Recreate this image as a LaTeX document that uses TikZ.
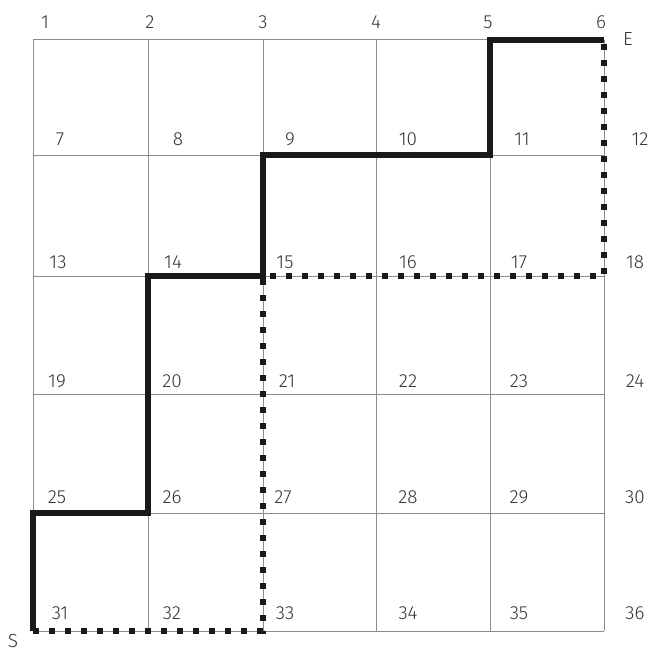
\documentclass[tikz,border=0pt]{standalone}
\usepackage{fontspec}
\setmainfont{Fira Sans Light}
\begin{document}
\begin{tikzpicture}[x=1bp,y=-1bp,
  grid/.style={draw=black!45,line width=1bp},
  solidpath/.style={draw=black!90,line width=5.5bp,line join=miter},
  dotpath/.style={draw=black!90,line width=6bp,dash pattern=on 6bp off 10bp},
  lbl/.style={anchor=base,inner sep=0pt,text=black!80,font=\fontsize{19}{19}\selectfont}]
\useasboundingbox (0,0) rectangle (651,652);
\foreach \x [count=\i] in {33,148,263,376,490,604}
  \foreach \y [count=\j] in {40,155,276,394,513,631}
    \coordinate (g\i-\j) at (\x,\y);
\foreach \i in {1,...,6} {
  \draw[grid] (g\i-1) -- (g\i-6);
  \draw[grid] (g1-\i) -- (g6-\i);
}
% labels
\foreach \x [count=\i] in {45,150,263,376,488,601}
  \node[lbl] (n\i) at (\x,29) {\i};
\foreach \y/\xa/\xb/\xc/\xd/\xe/\xf [count=\r from 1] in
  {145/60/178/290/408/522/640, 268/58/173/285/408/519/635,
   387/57/172/287/408/519/635, 503/57/172/283/408/519/635,
   619/60/172/285/408/519/635} {
  \foreach \x [count=\c] in {\xa,\xb,\xc,\xd,\xe,\xf} {
    \pgfmathtruncatemacro{\num}{6*\r+\c}
    \node[lbl] (n\num) at (\x,\y) {\num};
  }
}
\node[lbl] (E) at (628,46) {E};
\node[lbl] (S) at (13,647) {S};
% paths
\draw[dotpath] (g1-6) -- (g3-6) -- (g3-3) -- (g6-3) -- (g6-1);
\draw[solidpath] (g1-6) -- (g1-5) -- (g2-5) -- (g2-3) -- (g3-3) -- (g3-2) -- (g5-2) -- (g5-1) -- (g6-1);
\end{tikzpicture}
\end{document}
